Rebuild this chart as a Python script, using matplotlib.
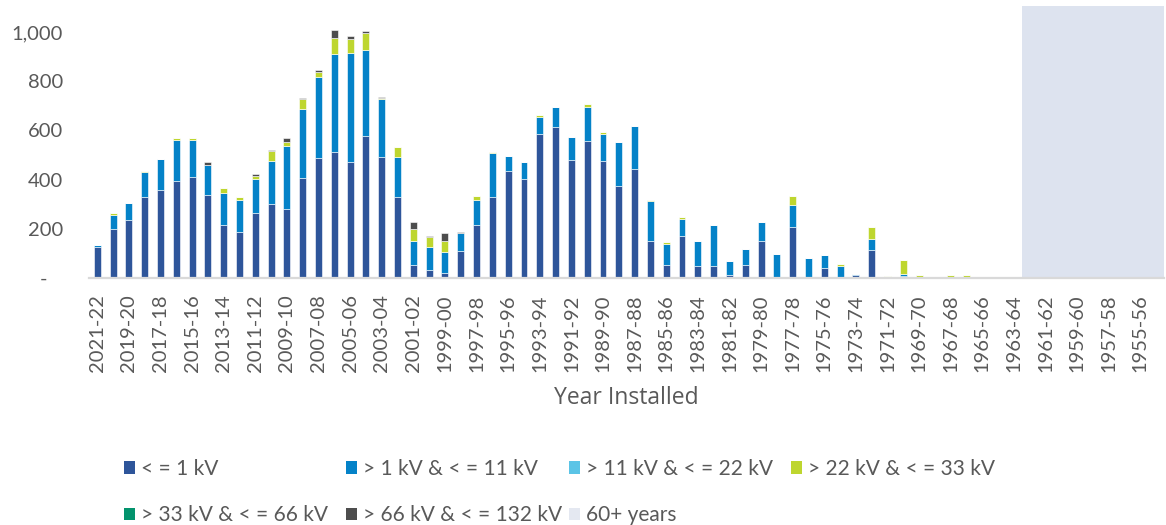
import matplotlib
matplotlib.use("Agg")
import matplotlib.pyplot as plt
from matplotlib.patches import Patch
import numpy as np

plt.rcParams['font.family'] = ['Lato', 'DejaVu Sans']

# categories: 2021-22 back to 1954-55
years = [f"{y}-{(y + 1) % 100:02d}" for y in range(2021, 1953, -1)]

lv_1 = [125, 200, 235, 327, 357, 394, 409, 337, 215, 185, 262, 302, 281, 405, 488, 512, 471, 579, 492, 327,
        52, 31, 20, 109, 215, 327, 435, 404, 584, 614, 481, 558, 476, 375, 444, 149, 52, 170, 46, 46,
        11, 52, 149, 4, 205, 4, 41, 2, 11, 113, 0, 8, 0, 0, 0, 0, 0, 0, 0, 0,
        0, 0, 0, 0, 0, 0, 0, 0]
lv_11 = [10, 55, 68, 102, 128, 168, 153, 124, 129, 133, 142, 175, 257, 283, 330, 400, 446, 349, 235, 165,
         97, 93, 83, 72, 103, 180, 62, 66, 72, 83, 92, 139, 108, 178, 176, 165, 87, 70, 103, 169,
         56, 66, 77, 94, 91, 78, 51, 44, 5, 46, 0, 8, 0, 0, 0, 0, 0, 0, 0, 0,
         0, 0, 0, 0, 0, 0, 0, 0]
lv_22 = [0] * 68
lv_33 = [0, 7, 0, 6, 0, 7, 7, 0, 20, 9, 12, 39, 16, 39, 22, 66, 56, 71, 5, 41,
         51, 40, 46, 0, 15, 5, 0, 0, 6, 0, 0, 11, 10, 0, 0, 4, 5, 6, 0, 0,
         0, 0, 0, 0, 37, 0, 0, 11, 0, 46, 5, 56, 11, 0, 11, 11, 0, 0, 0, 0,
         0, 0, 0, 3, 0, 0, 0, 0]
lv_66 = [0] * 68
lv_132 = [0, 0, 0, 0, 0, 0, 0, 9, 0, 0, 7, 6, 15, 5, 5, 31, 11, 5, 6, 0,
          27, 6, 32, 4, 0, 0, 0, 0, 0, 0, 0, 0, 0, 0, 0, 0, 0, 0, 0, 0,
          0, 0, 0, 0, 0, 0, 0, 0, 0, 0, 0, 0, 0, 0, 0, 0, 0, 0, 0, 0,
          0, 0, 0, 0, 0, 0, 0, 0]
# 60+ years band (1962-63 and older)
sixty_plus = [0] * 59 + [1107] * 9

series = [
    ("< = 1 kV", lv_1, "#2E559A"),
    ("> 1 kV & < = 11 kV", lv_11, "#0482C8"),
    ("> 11 kV & < = 22 kV", lv_22, "#5BC4E6"),
    ("> 22 kV & < = 33 kV", lv_33, "#BED62F"),
    ("> 33 kV & < = 66 kV", lv_66, "#03936D"),
    ("> 66 kV & < = 132 kV", lv_132, "#4D4D4D"),
]
band_color = "#DDE3EF"
txt = "#595959"

fig = plt.figure(figsize=(11.66, 5.25), dpi=100)
ax = fig.add_axes([89.4 / 1166, 1 - 277.7 / 525, (1164 - 89.4) / 1166, (277.7 - 6) / 525])

x = np.arange(len(years))
ax.bar(x, sixty_plus, width=1.0, color=band_color, zorder=0)
bottom = np.zeros(len(years))
for name, vals, col in series:
    v = np.array(vals, dtype=float)
    ax.bar(x, v, width=0.44, bottom=bottom, color=col, edgecolor="white", linewidth=0.4, zorder=2)
    bottom += v

ax.set_xlim(-0.5, len(years) - 0.5)
ax.set_ylim(0, 1107)
ax.set_xticks(x[::2])
ax.set_xticklabels(years[::2], rotation=90, fontsize=14.5, color=txt)
ax.set_yticks([0, 200, 400, 600, 800, 1000])
ax.set_yticklabels(["-   ", "200", "400", "600", "800", "1,000"], fontsize=14.5, color=txt)
ax.tick_params(axis="both", length=0)
ax.tick_params(axis="y", pad=19)
ax.tick_params(axis="x", pad=12)
for s in ["top", "right", "left"]:
    ax.spines[s].set_visible(False)
ax.spines["bottom"].set_color("#D9D9D9")
ax.spines["bottom"].set_linewidth(1.6)
ax.spines["bottom"].set_zorder(3)

fig.text(626 / 1166, 1 - 398 / 525, "Year Installed", ha="center", va="center",
         fontsize=16.5, color=txt, family=["Open Sans", "DejaVu Sans"])

# legend, laid out in 4 fixed-width columns
entries = [(n, c) for n, _, c in series] + [("60+ years", "#E4E8F1")]
cols = [[0, 4], [1, 5], [2, 6], [3]]
col_x = [124, 346, 569, 791]
for cx, idx in zip(col_x, cols):
    handles = [Patch(facecolor=entries[i][1], edgecolor="none", label=entries[i][0]) for i in idx]
    fig.legend(handles=handles, loc="upper left", bbox_to_anchor=(cx / 1166, 1 - 459 / 525),
               frameon=False, fontsize=15, labelcolor=txt, handlelength=0.55, handleheight=0.55,
               handletextpad=0.25, labelspacing=1.26, borderpad=0, borderaxespad=0)

fig.savefig("out.png", dpi=100)
